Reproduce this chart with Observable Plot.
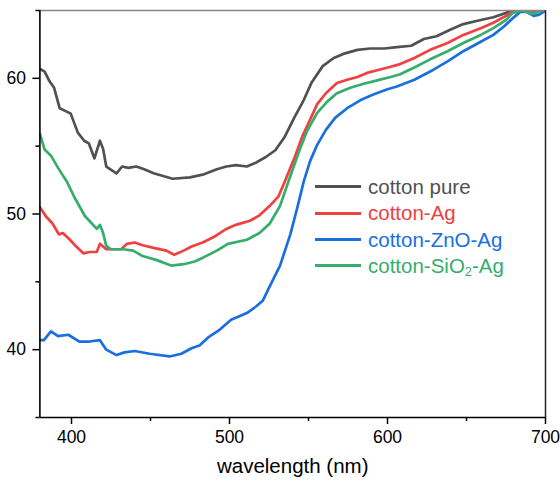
<!DOCTYPE html>
<html>
<head>
<meta charset="utf-8">
<script src="https://cdn.jsdelivr.net/npm/d3@7"></script>
<script src="https://cdn.jsdelivr.net/npm/@observablehq/plot@0.6"></script>
<style>
  html, body { margin: 0; padding: 0; background: #fff; }
  #wrap { position: relative; width: 560px; height: 481px; font-family: "Liberation Sans", Arial, sans-serif; }
  #legend { position: absolute; left: 315px; top: 173.8px; }
  .row { display: flex; align-items: center; height: 26.3px; font-size: 20.5px; white-space: nowrap; }
  .sw { display: inline-block; width: 46px; height: 3px; margin-right: 7px; }
  sub { font-size: 0.62em; vertical-align: -0.25em; line-height: 0; }
</style>
</head>
<body>
<div id="wrap"></div>
<script>
// ---- data ----
const seriesNames = ["cotton pure", "cotton-Ag", "cotton-ZnO-Ag", "cotton-SiO2-Ag"];
const seriesColors = ["#515151", "#F14040", "#1A6FDF", "#37AD6B"];

const pureX = [380,383,386,389,392.5,396,399.5,404,408,411,414.5,418,420,422,428.5,432,436,441,446,452,458,464,475,483,492,498,504,511,517,523,529,535,541,547,552,559,566,572,581,589,598,606,615,623,631,640,648,659,667,677,685,692,700];
const pureY = [60.7,60.5,59.8,59.3,57.8,57.6,57.4,56.0,55.4,55.2,54.1,55.4,54.8,53.5,53.0,53.5,53.4,53.5,53.3,53.0,52.8,52.6,52.7,52.9,53.3,53.5,53.6,53.5,53.8,54.2,54.7,55.7,57.1,58.4,59.7,60.9,61.5,61.8,62.1,62.2,62.2,62.3,62.4,62.9,63.1,63.6,64.0,64.3,64.5,64.9,65.2,65.4,65.5];

const agX = [380,384,388,392,394.5,399,403,407.5,411.5,416,418,422,431.5,435,440,445,452,460,465,471,476,483,490,498,504,513,519,525.5,531,535,541,546,550,555.5,561,568,574.5,581,587,593.5,602,608,617,627,638,648,659,667,675,679,685,692,700];
const agY = [50.5,49.8,49.3,48.5,48.6,48.1,47.6,47.1,47.2,47.2,47.8,47.4,47.4,47.8,47.9,47.7,47.5,47.3,47.0,47.3,47.6,47.9,48.3,48.9,49.2,49.5,49.9,50.6,51.3,52.4,54.1,55.7,56.7,58.1,58.9,59.65,59.9,60.1,60.4,60.6,60.85,61.05,61.5,62.1,62.6,63.2,63.7,64.1,64.6,64.9,65.1,64.9,65.1];

const znoX = [380,382.5,387,391.5,398,405,411.5,418,422,428.5,433.5,440,449.5,462,469.5,476,481,486.5,493,501,511,517,521,526,532,538.5,543,547,551,555.5,561,567,574.5,583,591,600,606,617,627,638,648,659,667,673.5,679,684,688,692.5,696,700];
const znoY = [40.7,40.7,41.35,41.0,41.1,40.6,40.6,40.7,40.0,39.6,39.8,39.9,39.7,39.5,39.7,40.1,40.3,40.9,41.4,42.2,42.7,43.2,43.6,44.8,46.2,48.5,50.5,52.4,53.9,55.1,56.2,57.1,57.8,58.4,58.8,59.2,59.4,59.9,60.5,61.25,62.0,62.7,63.2,63.8,64.4,64.9,64.9,64.6,64.7,65.0];

const sioX = [380,383,387,391.5,397,402,408.5,416,418,420,422,425,432.5,439,445,454,463,471,478,483.5,492,499,511,519,525.5,532,538.5,544,549,555.5,562,568,576.5,585,593.5,602,608,617,627,638,648,659,667,675,679,685,692,700];
const sioY = [55.9,54.75,54.3,53.4,52.4,51.2,49.85,48.9,49.2,48.6,47.65,47.4,47.4,47.3,46.9,46.6,46.2,46.3,46.5,46.8,47.3,47.8,48.1,48.6,49.3,50.6,52.8,54.6,56.1,57.45,58.3,58.9,59.3,59.6,59.85,60.1,60.3,60.8,61.4,62.0,62.6,63.2,63.7,64.3,64.8,65.0,64.75,65.1];

const xMajor = [400, 500, 600, 700];
const xMinor = [450, 550, 650];
const yMajor = [40, 50, 60];
const yMinor = [35, 45, 55, 65];
const xDomain = [380, 700];
const yDomain = [35, 65];
const xLabel = "wavelength (nm)";

// ---- build table ----
const xs = [pureX, agX, znoX, sioX];
const ys = [pureY, agY, znoY, sioY];
const rows = [];
xs.forEach((arr, s) => arr.forEach((x, i) => rows.push({series: seriesNames[s], x, y: ys[s][i]})));

const font = "'Liberation Sans', Arial, sans-serif";
const chart = Plot.plot({
  width: 560,
  height: 481,
  marginLeft: 39.4,
  marginRight: 15,
  marginTop: 10,
  marginBottom: 64,
  style: {fontFamily: font, fontSize: "17.5px", color: "#000", background: "#fff", overflow: "visible"},
  x: {domain: xDomain},
  y: {domain: yDomain},
  color: {domain: seriesNames, range: seriesColors},
  marks: [
    Plot.line(rows, {x: "x", y: "y", z: "series", stroke: "series", strokeWidth: 2.7, clip: true, curve: "linear"}),
    Plot.ruleY([yDomain[1]], {stroke: "#888", strokeWidth: 1.5}),
    Plot.ruleX([xDomain[1]], {stroke: "#222", strokeWidth: 1.5}),
    Plot.ruleX([xDomain[0]], {stroke: "#000", strokeWidth: 1.6}),
    Plot.ruleY([yDomain[0]], {stroke: "#000", strokeWidth: 1.6}),
    Plot.axisY(yMajor, {tickSize: 7, tickPadding: 7, strokeWidth: 1.5, label: null, fontSize: 17.5}),
    Plot.axisY(yMinor, {tickSize: 4, tickFormat: () => "", strokeWidth: 1.5, label: null}),
    Plot.axisX(xMajor, {tickSize: 7, tickPadding: 6, strokeWidth: 1.5, label: null, fontSize: 17.5}),
    Plot.axisX(xMinor, {tickSize: 4, tickFormat: () => "", strokeWidth: 1.5, label: null}),
    Plot.text([xLabel], {frameAnchor: "bottom", dy: 55, fontSize: 20.5, fill: "#000"})
  ]
});
const wrap = document.getElementById("wrap");
wrap.appendChild(chart);

// ---- legend overlay ----
const legend = document.createElement("div");
legend.id = "legend";
seriesNames.forEach((name, i) => {
  const row = document.createElement("div");
  row.className = "row";
  row.style.color = seriesColors[i];
  const sw = document.createElement("span");
  sw.className = "sw";
  sw.style.background = seriesColors[i];
  row.appendChild(sw);
  const label = document.createElement("span");
  if (name.includes("SiO2")) {
    label.innerHTML = name.replace("SiO2", "SiO<sub>2</sub>");
  } else {
    label.textContent = name;
  }
  row.appendChild(label);
  legend.appendChild(row);
});
wrap.appendChild(legend);
</script>
</body>
</html>
